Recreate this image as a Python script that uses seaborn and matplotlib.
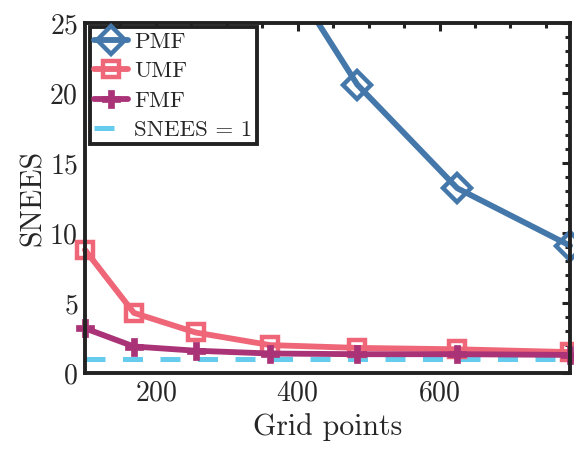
import numpy as np
import pandas as pd
import matplotlib
matplotlib.use("Agg")
import matplotlib.pyplot as plt
import seaborn as sns
from matplotlib.transforms import Bbox, TransformedBbox

sns.set_style("white")
plt.rcParams.update({
    "font.family": "serif",
    "font.serif": ["cmr10", "DejaVu Serif"],
    "mathtext.fontset": "cm",
    "axes.formatter.use_mathtext": True,
    "axes.unicode_minus": False,
})

grid_points = [100, 169, 256, 361, 484, 625, 784]
pmf = [95.0, 58.0, 40.0, 30.4, 20.6, 13.2, 9.1]
umf = [8.8, 4.3, 2.9, 2.0, 1.8, 1.7, 1.5]
fmf = [3.2, 1.9, 1.6, 1.4, 1.35, 1.35, 1.3]
snees_ref = [1, 1, 1, 1, 1, 1, 1]

c_pmf = "#4477AA"
c_umf = "#EE6677"
c_fmf = "#AA3377"
c_ref = "#66CCEE"

fig = plt.figure(figsize=(5.74, 4.49), dpi=100)
ax = fig.add_axes([0.148, 0.169, 0.845, 0.780])

df = pd.DataFrame({"x": grid_points, "PMF": pmf, "UMF": umf, "FMF": fmf, "ref": snees_ref})

lw = 4.2
sns.lineplot(data=df, x="x", y="ref", ax=ax, color=c_ref, lw=3.6,
             linestyle=(0, (4, 3.5)), label="SNEES = 1")
sns.lineplot(data=df, x="x", y="PMF", ax=ax, color=c_pmf, lw=lw, marker="D",
             markersize=14, markerfacecolor="none", markeredgecolor=c_pmf,
             markeredgewidth=3.2, label="PMF")
sns.lineplot(data=df, x="x", y="UMF", ax=ax, color=c_umf, lw=lw, marker="s",
             markersize=11, markerfacecolor="none", markeredgecolor=c_umf,
             markeredgewidth=3.2, label="UMF")
sns.lineplot(data=df, x="x", y="FMF", ax=ax, color=c_fmf, lw=lw, marker="P",
             markersize=13, markerfacecolor=c_fmf, markeredgecolor=c_fmf,
             markeredgewidth=0.5, label="FMF")

# let markers spill past the left/right spines, but keep the top clipped
clip = TransformedBbox(Bbox([[-0.06, -0.06], [1.06, 1.0]]), ax.transAxes)
for ln in ax.lines:
    ln.set_clip_box(clip)

ax.set_xlim(100, 784)
ax.set_ylim(0, 25)
ax.set_xticks([200, 400, 600])
ax.set_yticks([0, 5, 10, 15, 20, 25])
ax.set_xticks(np.arange(150, 784, 50), minor=True)
ax.set_yticks(np.arange(0, 26, 1), minor=True)
ax.tick_params(which="both", direction="in", top=True, right=True,
               color="#222222", labelsize=20, pad=5)
ax.tick_params(which="major", length=6, width=2.2)
ax.tick_params(which="minor", length=3.5, width=2.2)
for sp in ax.spines.values():
    sp.set_linewidth(2.8)
    sp.set_color("#222222")

ax.set_xlabel("Grid points", fontsize=21.5)
ax.set_ylabel("SNEES", fontsize=21.5)
ax.xaxis.labelpad = 5
ax.yaxis.labelpad = 2

handles, labels = ax.get_legend_handles_labels()
order = [labels.index(k) for k in ["PMF", "UMF", "FMF", "SNEES = 1"]]
leg = ax.legend([handles[i] for i in order], [labels[i] for i in order],
                loc="upper left", fontsize=16.5, fancybox=False, framealpha=1,
                edgecolor="#222222", handlelength=1.5, handletextpad=0.25,
                borderpad=0.2, labelspacing=0.4, borderaxespad=0.2)
leg.get_frame().set_linewidth(2.8)

fig.savefig("out.png", dpi=100)
